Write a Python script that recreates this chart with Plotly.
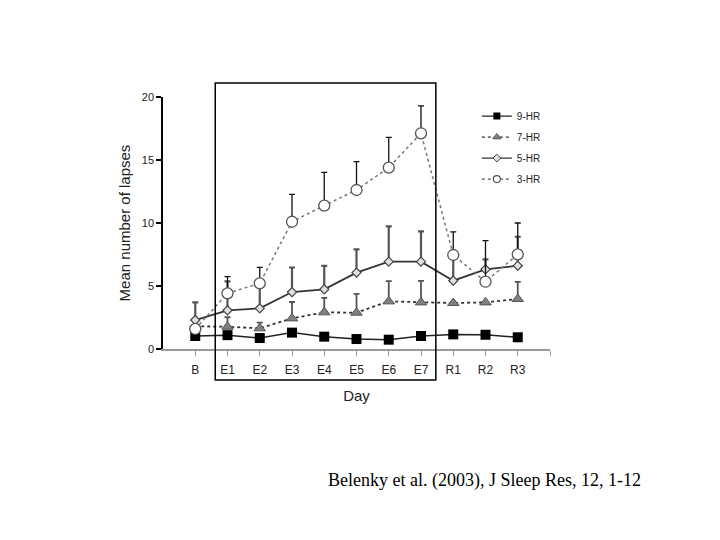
import plotly.graph_objects as go

days = ["B", "E1", "E2", "E3", "E4", "E5", "E6", "E7", "R1", "R2", "R3"]
x_idx = list(range(len(days)))

hr9 = [1.03, 1.1, 0.87, 1.3, 0.98, 0.79, 0.74, 1.03, 1.16, 1.13, 0.93]
hr7 = [1.8, 1.77, 1.64, 2.43, 2.91, 2.88, 3.78, 3.7, 3.65, 3.7, 3.97]
hr7_err = [0.0, 0.75, 0.45, 1.3, 1.15, 1.5, 1.6, 1.7, 0.0, 0.0, 1.35]
hr5 = [2.3, 3.07, 3.23, 4.52, 4.74, 6.06, 6.93, 6.93, 5.42, 6.32, 6.61]
hr5_err = [1.4, 2.3, 2.0, 1.95, 1.85, 1.85, 2.8, 2.4, 1.8, 0.8, 2.3]
hr3 = [1.59, 4.42, 5.21, 10.1, 11.38, 12.62, 14.4, 17.12, 7.46, 5.34, 7.51]
hr3_err = [0.0, 1.32, 1.27, 2.17, 2.64, 2.25, 2.4, 2.17, 1.84, 3.26, 2.49]

series = [
    dict(name="9-HR", y=hr9, err=None,
         line=dict(color="#222222", width=1.5),
         marker=dict(symbol="square", size=10, color="#000000"),
         leg_marker=dict(symbol="square", size=7, color="#000000"),
         leg_line=dict(color="#222222", width=1.2),
         ecolor=None, ethick=None),
    dict(name="7-HR", y=hr7, err=hr7_err,
         line=dict(color="#333333", width=1.8, dash="dot"),
         marker=dict(symbol="triangle-up", size=10, color="#808080",
                     line=dict(color="#555555", width=1)),
         leg_marker=dict(symbol="triangle-up", size=7, color="#808080",
                         line=dict(color="#555555", width=1)),
         leg_line=dict(color="#333333", width=1.2, dash="dot"),
         ecolor="#555555", ethick=1.8),
    dict(name="5-HR", y=hr5, err=hr5_err,
         line=dict(color="#333333", width=1.8),
         marker=dict(symbol="diamond", size=7, color="#e0e0e0",
                     line=dict(color="#444444", width=1.2)),
         leg_marker=dict(symbol="diamond", size=6, color="#e0e0e0",
                         line=dict(color="#444444", width=1)),
         leg_line=dict(color="#333333", width=1.2),
         ecolor="#555555", ethick=2.2),
    dict(name="3-HR", y=hr3, err=hr3_err,
         line=dict(color="#777777", width=1.5, dash="dot"),
         marker=dict(symbol="circle", size=11, color="#ffffff",
                     line=dict(color="#555555", width=1.3)),
         leg_marker=dict(symbol="circle", size=7, color="#ffffff",
                         line=dict(color="#555555", width=1.2)),
         leg_line=dict(color="#555555", width=1.2, dash="dot"),
         ecolor="#111111", ethick=1.3),
]

fig = go.Figure()

for s in series:
    err = None
    if s["err"] is not None:
        err = dict(type="data", symmetric=False, array=s["err"],
                   arrayminus=[0] * len(s["y"]), color=s["ecolor"],
                   thickness=s["ethick"], width=3)
    fig.add_trace(go.Scatter(
        x=x_idx, y=s["y"], name=s["name"], mode="lines+markers",
        legendgroup=s["name"], showlegend=False,
        line=s["line"], marker=s["marker"], error_y=err,
    ))
    # legend-only entry with smaller sample symbols
    fig.add_trace(go.Scatter(
        x=[None], y=[None], name=s["name"], mode="lines+markers",
        legendgroup=s["name"], showlegend=True,
        line=s["leg_line"], marker=s["leg_marker"],
    ))

font_sans = "Liberation Sans, Arial, sans-serif"

# plot area in figure px: x 155..542, y 89..341
fig.update_layout(
    width=720, height=540,
    paper_bgcolor="white", plot_bgcolor="white",
    margin=dict(l=155, r=178, t=89, b=199),
    showlegend=True,
    legend=dict(x=0.811, y=0.982, xanchor="left", yanchor="top",
                font=dict(family=font_sans, size=10, color="#222222"),
                itemwidth=30, bgcolor="rgba(0,0,0,0)", tracegroupgap=2,
                traceorder="grouped"),
    font=dict(family=font_sans, color="#222222"),
)

fig.update_xaxes(
    range=[-1, 11], tickmode="array",
    tickvals=x_idx + [11], ticktext=days + [""],
    showgrid=False, zeroline=False,
    showline=True, linecolor="#9a9a9a", linewidth=2,
    ticks="outside", ticklen=5, tickcolor="#9a9a9a", tickwidth=1,
    tickfont=dict(size=12, color="#222222"), ticklabelstandoff=4,
    title=dict(text="Day", font=dict(size=15, color="#222222"), standoff=14),
)
fig.update_yaxes(
    range=[0, 20], tickvals=[0, 5, 10, 15, 20],
    showgrid=False, zeroline=False,
    showline=True, linecolor="#000000", linewidth=1.5,
    ticks="outside", ticklen=5, tickcolor="#000000", tickwidth=1.5,
    tickfont=dict(size=11, color="#222222"),
    title=dict(text="Mean number of lapses", font=dict(size=15, color="#222222"), standoff=8),
)

fig.add_shape(type="rect", xref="x", yref="paper",
              x0=0.62, x1=7.46, y0=-0.123, y1=1.056,
              line=dict(color="#000000", width=1.5), fillcolor="rgba(0,0,0,0)")

fig.add_annotation(
    text="Belenky et al. (2003), J Sleep Res, 12, 1-12",
    xref="paper", yref="paper", x=0.8295, y=-0.52,
    xanchor="center", yanchor="middle", showarrow=False,
    font=dict(family="Liberation Serif, Times New Roman, serif", size=18, color="#000000"),
)

fig.write_html("out.html")
